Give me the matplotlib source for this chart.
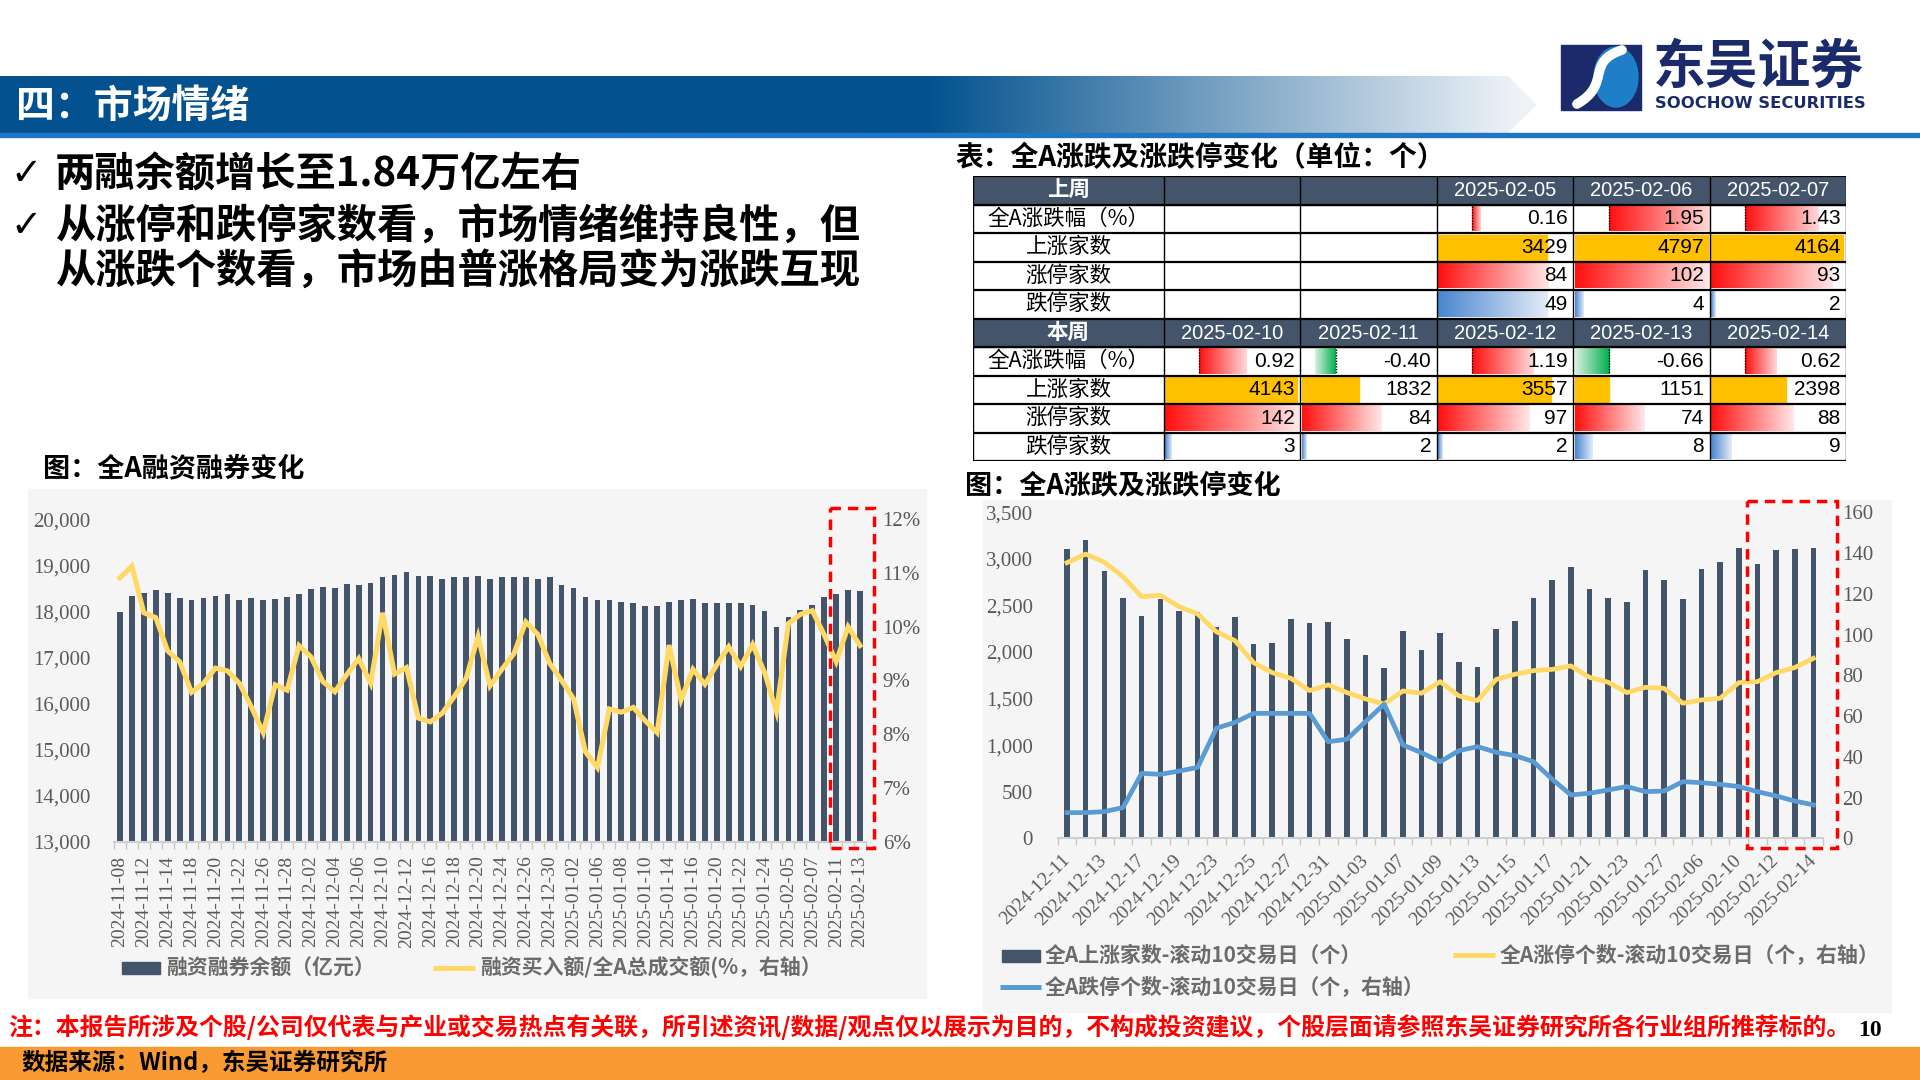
import numpy as np
import matplotlib
matplotlib.use('Agg')
import matplotlib.pyplot as plt
import matplotlib.colors as mcolors
from matplotlib.patches import Rectangle, Polygon, Ellipse, PathPatch
from matplotlib.path import Path
from matplotlib.ticker import FuncFormatter, FixedLocator

# ---------------- data ----------------
margin_dates = ['2024-11-08', '2024-11-11', '2024-11-12', '2024-11-13', '2024-11-14', '2024-11-15',
                '2024-11-18', '2024-11-19', '2024-11-20', '2024-11-21', '2024-11-22', '2024-11-25',
                '2024-11-26', '2024-11-27', '2024-11-28', '2024-11-29', '2024-12-02', '2024-12-03',
                '2024-12-04', '2024-12-05', '2024-12-06', '2024-12-09', '2024-12-10', '2024-12-11',
                '2024-12-12', '2024-12-13', '2024-12-16', '2024-12-17', '2024-12-18', '2024-12-19',
                '2024-12-20', '2024-12-23', '2024-12-24', '2024-12-25', '2024-12-26', '2024-12-27',
                '2024-12-30', '2024-12-31', '2025-01-02', '2025-01-03', '2025-01-06', '2025-01-07',
                '2025-01-08', '2025-01-09', '2025-01-10', '2025-01-13', '2025-01-14', '2025-01-15',
                '2025-01-16', '2025-01-17', '2025-01-20', '2025-01-21', '2025-01-22', '2025-01-23',
                '2025-01-24', '2025-01-27', '2025-02-05', '2025-02-06', '2025-02-07', '2025-02-10',
                '2025-02-11', '2025-02-12', '2025-02-13']
margin_balance = [17980, 18340, 18400, 18470, 18400, 18290, 18250, 18290, 18330, 18380,
                  18250, 18290, 18250, 18270, 18320, 18380, 18490, 18530, 18500, 18590,
                  18570, 18610, 18740, 18790, 18860, 18770, 18770, 18710, 18740, 18740,
                  18770, 18710, 18740, 18740, 18740, 18700, 18740, 18570, 18510, 18320,
                  18240, 18240, 18210, 18190, 18110, 18110, 18210, 18240, 18260, 18180,
                  18190, 18190, 18190, 18130, 18010, 17670, 17880, 18030, 18130, 18320,
                  18380, 18470, 18450]
margin_ratio = [10.91, 11.13, 10.26, 10.17, 9.55, 9.35, 8.78, 8.95, 9.23, 9.18,
                8.95, 8.51, 8.03, 8.92, 8.82, 9.65, 9.44, 8.98, 8.79, 9.11,
                9.41, 8.95, 10.26, 9.12, 9.24, 8.30, 8.23, 8.39, 8.70, 9.04,
                9.82, 8.90, 9.21, 9.50, 10.09, 9.86, 9.32, 9.00, 8.66, 7.67,
                7.38, 8.47, 8.41, 8.50, 8.25, 8.03, 9.66, 8.64, 9.21, 8.93,
                9.29, 9.63, 9.26, 9.67, 9.15, 8.42, 10.06, 10.23, 10.30, 9.85,
                9.35, 10.00, 9.65]

breadth_dates = ['2024-12-11', '2024-12-12', '2024-12-13', '2024-12-16', '2024-12-17', '2024-12-18',
                 '2024-12-19', '2024-12-20', '2024-12-23', '2024-12-24', '2024-12-25', '2024-12-26',
                 '2024-12-27', '2024-12-30', '2024-12-31', '2025-01-02', '2025-01-03', '2025-01-06',
                 '2025-01-07', '2025-01-08', '2025-01-09', '2025-01-10', '2025-01-13', '2025-01-14',
                 '2025-01-15', '2025-01-16', '2025-01-17', '2025-01-20', '2025-01-21', '2025-01-22',
                 '2025-01-23', '2025-01-24', '2025-01-27', '2025-02-05', '2025-02-06', '2025-02-07',
                 '2025-02-10', '2025-02-11', '2025-02-12', '2025-02-13', '2025-02-14']
up_count_10d = [3107, 3203, 2870, 2580, 2387, 2570, 2441, 2427, 2273, 2377,
                2087, 2097, 2355, 2312, 2323, 2140, 1965, 1829, 2223, 2026,
                2201, 1893, 1840, 2244, 2334, 2580, 2777, 2913, 2677, 2580,
                2541, 2881, 2770, 2570, 2892, 2967, 3117, 2942, 3096, 3107, 3117]
limit_up_10d = [135.3, 139.5, 135.5, 128.4, 118.6, 119.3, 113.7, 110.1, 101.4, 97.0,
                86.2, 81.3, 78.5, 72.5, 75.3, 71.5, 68.4, 65.9, 72.3, 71.2,
                76.9, 69.9, 67.6, 78.0, 80.5, 82.3, 82.9, 84.6, 79.0, 76.6,
                71.5, 74.1, 73.6, 66.3, 67.9, 68.7, 76.4, 76.9, 81.3, 83.8, 88.3]
limit_down_10d = [12.6, 12.6, 13.1, 15.1, 31.9, 31.4, 33.0, 34.8, 54.0, 56.9,
                  61.3, 61.3, 61.3, 61.3, 47.4, 48.6, 57.3, 65.8, 45.8, 42.0,
                  37.6, 43.0, 45.0, 42.2, 40.6, 37.6, 29.0, 21.3, 22.1, 23.7,
                  25.4, 22.9, 23.2, 27.8, 27.3, 26.5, 25.4, 22.9, 20.8, 18.3, 16.4]

table_row_labels = ['全A涨跌幅（%）', '上涨家数', '涨停家数', '跌停家数']
last_week_dates = ['2025-02-05', '2025-02-06', '2025-02-07']
last_week_chg = [0.16, 1.95, 1.43]
last_week_up = [3429, 4797, 4164]
last_week_limit_up = [84, 102, 93]
last_week_limit_down = [49, 4, 2]
this_week_dates = ['2025-02-10', '2025-02-11', '2025-02-12', '2025-02-13', '2025-02-14']
this_week_chg = [0.92, -0.40, 1.19, -0.66, 0.62]
this_week_up = [4143, 1832, 3557, 1151, 2398]
this_week_limit_up = [142, 84, 97, 74, 88]
this_week_limit_down = [3, 2, 2, 8, 9]

section_title = '四：市场情绪'
bullets = ['两融余额增长至1.84万亿左右',
           '从涨停和跌停家数看，市场情绪维持良性，但',
           '从涨跌个数看，市场由普涨格局变为涨跌互现']
table_title = '表：全A涨跌及涨跌停变化（单位：个）'
left_title = '图：全A融资融券变化'
right_title = '图：全A涨跌及涨跌停变化'
left_legend = ['融资融券余额（亿元）', '融资买入额/全A总成交额(%，右轴）']
right_legend = ['全A上涨家数-滚动10交易日（个）', '全A涨停个数-滚动10交易日（个，右轴）',
                '全A跌停个数-滚动10交易日（个，右轴）']
note_text = ('注：本报告所涉及个股/公司仅代表与产业或交易热点有关联，所引述资讯/数据/观点仅以展示为目的，'
             '不构成投资建议，个股层面请参照东吴证券研究所各行业组所推荐标的。')
source_text = '数据来源：Wind，东吴证券研究所'

# ---------------- style ----------------
CJK = ['Noto Sans CJK SC', 'DejaVu Sans']
SERIF = 'Liberation Serif'
plt.rcParams['font.family'] = CJK
plt.rcParams['axes.unicode_minus'] = False

NAVY_BAR = '#44546A'
YELLOW = '#FFD966'
BLUE = '#5B9BD5'
GRAY_TXT = '#595959'
LEG_TXT = '#6B6B6B'

W, H = 1920, 1080
fig = plt.figure(figsize=(19.2, 10.8), dpi=100)


def rect(x0, y0, x1, y1):
    return [x0 / W, 1 - y1 / H, (x1 - x0) / W, (y1 - y0) / H]


bg = fig.add_axes([0, 0, 1, 1], zorder=0)
bg.axis('off')

# header band with gradient
band_c = np.array(mcolors.to_rgb('#03528F'))
end_c = np.array(mcolors.to_rgb('#EEF2F7'))
xs = np.linspace(0, 1540, 800)
t = np.clip((xs - 930) / (1515 - 930), 0, 1)
grad = band_c[None, :] * (1 - t[:, None]) + end_c[None, :] * t[:, None]
im = bg.imshow(grad[None, :, :], extent=(0, 1540, 133, 76), aspect='auto',
               interpolation='bilinear', zorder=1)
clip_poly = Polygon([(0, 76), (1508, 76), (1537, 105), (1508, 133), (0, 133)],
                    closed=True, transform=bg.transData, facecolor='none', edgecolor='none')
bg.add_patch(clip_poly)
im.set_clip_path(clip_poly)
bg.add_patch(Rectangle((0, 133), 1920, 4, color='#1F77C4', zorder=2))
bg.text(16, 106, section_title, color='white', fontsize=28, fontweight='bold',
        va='center', ha='left', zorder=3)

# logo
bg.add_patch(Rectangle((1561, 45), 80, 65, color='#1B2A6B', zorder=2))
bg.add_patch(Ellipse((1616, 77), 44, 60, color='#1E7FC8', zorder=3))
verts = [(1622, 50), (1585, 62), (1612, 84), (1577, 104)]
bg.add_patch(PathPatch(Path(verts, [Path.MOVETO, Path.CURVE4, Path.CURVE4, Path.CURVE4]),
                       facecolor='none', edgecolor='white', lw=7, capstyle='round', zorder=4))
bg.text(1653, 67, '东吴证券', color='#1B2A6B', fontsize=38, fontweight='bold',
        va='center', ha='left', zorder=3)
bg.text(1655, 104, 'SOOCHOW SECURITIES', color='#1B2A6B', fontsize=11.8,
        fontweight='bold', va='center', ha='left', family='DejaVu Sans', zorder=3)

# bullets
for yy, txt, chk in [(175, bullets[0], True), (227, bullets[1], True), (272, bullets[2], False)]:
    if chk:
        bg.text(10, yy, '✓', fontsize=27, fontweight='bold', va='center', ha='left',
                family=['DejaVu Sans'])
    bg.text(55, yy, txt, fontsize=29, fontweight='bold', va='center', ha='left')

# titles
bg.text(955, 158, table_title, fontsize=20, fontweight='bold', va='center', ha='left')
bg.text(43, 468, left_title, fontsize=19.5, fontweight='bold', va='center', ha='left')
bg.text(965, 485, right_title, fontsize=19.5, fontweight='bold', va='center', ha='left')

# chart panels
bg.add_patch(Rectangle((28, 489), 898, 509, color='#F5F5F5', zorder=1))
bg.add_patch(Rectangle((983, 500), 908, 512, color='#F5F5F5', zorder=1))

# left legend
bg.add_patch(Rectangle((122, 962), 38, 12, color=NAVY_BAR, zorder=2))
bg.text(166, 968, left_legend[0], fontsize=15, fontweight='bold', color=LEG_TXT, va='center')
bg.plot([433, 475], [968, 968], color=YELLOW, lw=3.6, solid_capstyle='butt', zorder=2)
bg.text(480, 968, left_legend[1], fontsize=15, fontweight='bold', color=LEG_TXT, va='center')

# right legend
bg.add_patch(Rectangle((1002, 950), 38, 12, color=NAVY_BAR, zorder=2))
bg.text(1045, 955, right_legend[0], fontsize=15, fontweight='bold', color=LEG_TXT, va='center')
bg.plot([1453, 1495], [955, 955], color=YELLOW, lw=3.6, solid_capstyle='butt', zorder=2)
bg.text(1500, 955, right_legend[1], fontsize=15, fontweight='bold', color=LEG_TXT, va='center')
bg.plot([1000, 1041], [987, 987], color=BLUE, lw=3.6, solid_capstyle='butt', zorder=2)
bg.text(1045, 987, right_legend[2], fontsize=15, fontweight='bold', color=LEG_TXT, va='center')

# footer
bg.text(8, 1027, note_text, fontsize=17.2, fontweight='bold', color='#FF0000', va='center', ha='left')
bg.text(1858, 1031, '10', fontsize=17, fontweight='bold', family=SERIF, va='center', ha='left')
bg.add_patch(Rectangle((0, 1047), 1920, 33, color='#F99A32', zorder=1))
bg.text(22, 1063, source_text, fontsize=17, fontweight='bold', color='black', va='center', ha='left', zorder=2)

bg.set_xlim(0, W)
bg.set_ylim(H, 0)


def style_cat_axis(ax, n, labels_every, labels):
    ax.set_xlim(-0.5, n - 0.5)
    ax.xaxis.set_major_locator(FixedLocator(list(range(0, n, labels_every))))
    ax.set_xticklabels(labels[::labels_every])
    ax.xaxis.set_minor_locator(FixedLocator([i - 0.5 for i in range(n + 1)]))
    ax.tick_params(axis='x', which='minor', length=5, width=1, color='#C8C8C8')
    for s in ['top', 'right', 'left']:
        ax.spines[s].set_visible(False)
    ax.spines['bottom'].set_color('#D0D0D0')
    ax.spines['bottom'].set_linewidth(1.5)


# ---------------- left chart ----------------
ax1 = fig.add_axes(rect(114, 519.3, 866, 841.7), zorder=2)
ax1.set_facecolor('none')
n1 = len(margin_dates)
x1 = np.arange(n1)
ax1.bar(x1, margin_balance, width=0.48, color=NAVY_BAR, zorder=2)
style_cat_axis(ax1, n1, 2, margin_dates)
ax1.tick_params(axis='x', which='major', length=0, pad=10, labelsize=14, labelcolor=GRAY_TXT,
                labelrotation=90, labelfontfamily=SERIF)
ax1.set_ylim(13000, 20000)
ax1.set_yticks(range(13000, 20001, 1000))
ax1.yaxis.set_major_formatter(FuncFormatter(lambda v, p: f'{int(v):,}'))
ax1.tick_params(axis='y', length=0, pad=17, labelsize=15, labelcolor=GRAY_TXT, labelfontfamily=SERIF)

ax1r = ax1.twinx()
ax1r.set_zorder(3)
ax1r.set_facecolor('none')
ax1r.plot(x1, margin_ratio, color=YELLOW, lw=3.6, solid_joinstyle='miter')
ax1r.set_ylim(6, 12)
ax1r.set_yticks(range(6, 13))
ax1r.yaxis.set_major_formatter(FuncFormatter(lambda v, p: f'{int(v)}%'))
ax1r.tick_params(axis='y', length=0, pad=12, labelsize=15, labelcolor=GRAY_TXT, labelfontfamily=SERIF)
for s in ['top', 'right', 'left', 'bottom']:
    ax1r.spines[s].set_visible(False)

# ---------------- right chart ----------------
ax2 = fig.add_axes(rect(1057.7, 512.3, 1822.7, 838.3), zorder=2)
ax2.set_facecolor('none')
n2 = len(breadth_dates)
x2 = np.arange(n2)
ax2.bar(x2, up_count_10d, width=0.3, color=NAVY_BAR, zorder=2)
style_cat_axis(ax2, n2, 2, breadth_dates)
ax2.tick_params(axis='x', which='major', length=0, pad=14, labelsize=14, labelcolor=GRAY_TXT,
                labelfontfamily=SERIF)
for lab in ax2.get_xticklabels():
    lab.set_rotation(45)
    lab.set_ha('right')
    lab.set_va('center')
    lab.set_rotation_mode('anchor')
ax2.set_ylim(0, 3500)
ax2.set_yticks(range(0, 3501, 500))
ax2.yaxis.set_major_formatter(FuncFormatter(lambda v, p: f'{int(v):,}'))
ax2.tick_params(axis='y', length=0, pad=18, labelsize=15, labelcolor=GRAY_TXT, labelfontfamily=SERIF)

ax2r = ax2.twinx()
ax2r.set_zorder(3)
ax2r.set_facecolor('none')
ax2r.plot(x2, limit_up_10d, color=YELLOW, lw=3.4)
ax2r.plot(x2, limit_down_10d, color=BLUE, lw=3.4)
ax2r.set_ylim(0, 160)
ax2r.set_yticks(range(0, 161, 20))
ax2r.tick_params(axis='y', length=0, pad=14, labelsize=15, labelcolor=GRAY_TXT, labelfontfamily=SERIF)
for s in ['top', 'right', 'left', 'bottom']:
    ax2r.spines[s].set_visible(False)

# ---------------- table ----------------
tab = fig.add_axes(rect(973, 176, 1846, 461), zorder=2)
tab.axis('off')
col_edges = [0, 1.4, 2.4, 3.4, 4.4, 5.4, 6.4]
TOTAL_W = col_edges[-1]
HEAD_BG = '#44546A'


def grad_bar(x0, x1, r, c0, c1):
    g = np.linspace(0, 1, 64)[:, None]
    a = np.array(mcolors.to_rgb(c0)); b = np.array(mcolors.to_rgb(c1))
    cols = a[None, :] * (1 - g) + b[None, :] * g
    tab.imshow(cols[None, :, :], extent=(x0, x1, r + 0.94, r + 0.06), aspect='auto',
               interpolation='bilinear', zorder=1)


def draw_block(r0, head, dates, chg, up, lu, ld, first_col):
    tab.add_patch(Rectangle((0, r0), TOTAL_W, 1, color=HEAD_BG, zorder=0))
    tab.text(col_edges[1] / 2, r0 + 0.5, head, color='white', fontsize=15.5, fontweight='bold',
             ha='center', va='center', zorder=3)
    for k, d in enumerate(dates):
        c = first_col + k
        tab.text((col_edges[c] + col_edges[c + 1]) / 2, r0 + 0.52, d, color='white', fontsize=14.5,
                 family='Liberation Sans', ha='center', va='center', zorder=3)
    for i, lab in enumerate(table_row_labels):
        tab.text(col_edges[1] / 2, r0 + 1 + i + 0.5, lab, fontsize=15.5, ha='center', va='center', zorder=3)
    lu_max = max(lu)
    for k in range(len(dates)):
        c = first_col + k
        xl, xr = col_edges[c], col_edges[c + 1]
        cw = xr - xl
        # change row
        r = r0 + 1
        axis_x = xl + 0.26 * cw
        v = chg[k]
        if v >= 0:
            grad_bar(axis_x, axis_x + v * 0.378 * cw, r, '#FF1010', '#FFD8D8')
        else:
            grad_bar(axis_x + v * 0.378 * cw, axis_x, r, '#D8F0DF', '#00B050')
        tab.plot([axis_x, axis_x], [r + 0.06, r + 0.94], color='black', lw=1, ls=(0, (1, 1)), zorder=2)
        tab.text(xr - 0.04, r + 0.5, f'{v:.2f}', fontsize=15, family='Liberation Sans',
                 ha='right', va='center', zorder=3)
        # up count row
        r = r0 + 2
        frac = min(up[k] / 4200, 1.0)
        tab.add_patch(Rectangle((xl + 0.01, r + 0.06), frac * cw - 0.02, 0.88, color='#FFC000', zorder=1))
        tab.text(xr - 0.04, r + 0.5, str(up[k]), fontsize=15, family='Liberation Sans',
                 ha='right', va='center', zorder=3)
        # limit up row
        r = r0 + 3
        grad_bar(xl + 0.01, xl + 0.01 + (lu[k] / lu_max) * (cw - 0.02), r, '#FF1010', '#FFE6E6')
        tab.text(xr - 0.04, r + 0.5, str(lu[k]), fontsize=15, family='Liberation Sans',
                 ha='right', va='center', zorder=3)
        # limit down row
        r = r0 + 4
        grad_bar(xl + 0.01, xl + 0.01 + min(ld[k] / 60, 1.0) * (cw - 0.02), r, '#4A86D0', '#E3ECF7')
        tab.text(xr - 0.04, r + 0.5, str(ld[k]), fontsize=15, family='Liberation Sans',
                 ha='right', va='center', zorder=3)


draw_block(0, '上周', last_week_dates, last_week_chg, last_week_up, last_week_limit_up,
           last_week_limit_down, 3)
draw_block(5, '本周', this_week_dates, this_week_chg, this_week_up, this_week_limit_up,
           this_week_limit_down, 1)

for r in range(11):
    tab.plot([0, TOTAL_W], [r, r], color='black', lw=1.6, zorder=4, solid_capstyle='butt')
for c in col_edges:
    tab.plot([c, c], [0, 10], color='black', lw=1.0, zorder=4)
tab.set_xlim(0, TOTAL_W)
tab.set_ylim(10, 0)

# ---------------- overlay (red dashed highlight boxes) ----------------
ov = fig.add_axes([0, 0, 1, 1], zorder=10)
ov.axis('off')
ov.set_facecolor('none')
ov.add_patch(Rectangle((830, 508), 44, 340, fill=False, edgecolor='#FF0000', lw=2.5, ls=(0, (3, 2))))
ov.add_patch(Rectangle((1747, 501), 90, 347, fill=False, edgecolor='#FF0000', lw=2.5, ls=(0, (3, 2))))
ov.set_xlim(0, W)
ov.set_ylim(H, 0)

fig.savefig('out.png', dpi=100)
